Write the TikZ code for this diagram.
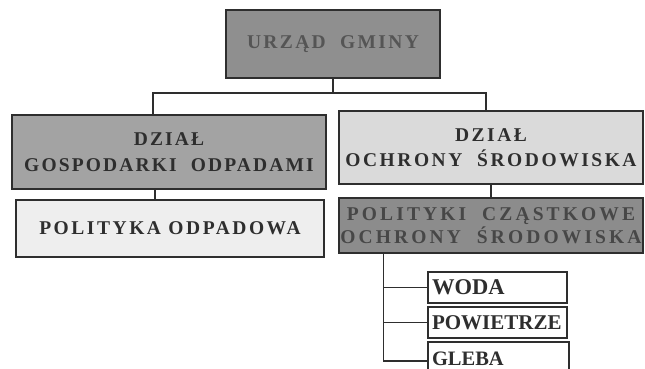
\documentclass[tikz,border=0pt]{standalone}
\usepackage{fontspec}
\setmainfont{Liberation Serif}
\definecolor{fillA}{HTML}{8F8F8F}
\definecolor{textA}{HTML}{555555}
\definecolor{fillB}{HTML}{A3A3A3}
\definecolor{fillC}{HTML}{DADADA}
\definecolor{fillD}{HTML}{EEEEEE}
\definecolor{fillE}{HTML}{8C8C8C}
\definecolor{textE}{HTML}{474747}
\definecolor{ink}{HTML}{2E2E2E}
\newcommand{\lsp}[1]{\addfontfeature{LetterSpace=#1}}
\begin{document}
\begin{tikzpicture}[x=1pt,y=-1pt,
  box/.style={draw=ink, line width=1.4pt, inner sep=0pt, align=center, text=ink,
    font=\bfseries\fontsize{19.5}{25.5}\selectfont},
  smallbox/.style={draw=ink, line width=1.2pt, fill=white, inner xsep=4pt, inner ysep=0pt,
    text width=131pt, align=left, minimum height=31pt, text=ink,
    font=\bfseries\fontsize{22.5}{24}\selectfont},
  conn/.style={draw=ink, line width=1.2pt}]
\fill[white] (0,0) rectangle (645,368);
\clip (0,0) rectangle (645,368);
% boxes
\node[box, fill=fillA, text=textA, minimum width=214pt, minimum height=68pt] (urzad) at (333,44)
  {\lsp{12}URZĄD\ \ GMINY};
\node[box, fill=fillB, minimum width=314pt, minimum height=74pt] (dgosp) at (169,152)
  {\lsp{11}DZIAŁ\\\lsp{11}GOSPODARKI\ \ ODPADAMI};
\node[box, fill=fillC, minimum width=304pt, minimum height=73pt] (dochr) at (491,147.5)
  {\lsp{13}DZIAŁ\\\lsp{13}OCHRONY\ \ ŚRODOWISKA};
\node[box, fill=fillD, minimum width=308pt, minimum height=57pt] (polodp) at (170,228.5)
  {\lsp{13}POLITYKA ODPADOWA};
\node[box, fill=fillE, text=textE, minimum width=304pt, minimum height=55pt, font=\bfseries\fontsize{19.5}{23}\selectfont] (polcz) at (491,225.5)
  {\lsp{16}POLITYKI\ \ CZĄSTKOWE\\\lsp{16}OCHRONY\ \ ŚRODOWISKA};
\node[smallbox] (woda) at (497.5,287.5) {WODA};
\node[smallbox, font=\bfseries\fontsize{21}{24}\selectfont] (powietrze) at (497.5,322.5) {POWIETRZE};
\node[smallbox, text width=133pt, minimum height=38pt, font=\bfseries\fontsize{20.5}{24}\selectfont] (gleba) at (498.5,361) {\raisebox{4pt}{GLEBA}};
% connectors
\coordinate (j) at (333,93);
\draw[conn] (urzad.south) -- (j);
\draw[conn] ([xshift=-16pt]dgosp.north) |- (j) -| ([xshift=-5pt]dochr.north);
\draw[conn] ([xshift=-14pt]dgosp.south) -- ([xshift=-14pt]dgosp.south |- polodp.north);
\draw[conn] (dochr.south) -- (polcz.north);
\coordinate (sp) at ([xshift=45pt]polcz.south west);
\draw[conn] (sp) |- (gleba.west);
\draw[conn] (woda.west -| sp) -- (woda.west);
\draw[conn] (powietrze.west -| sp) -- (powietrze.west);
\end{tikzpicture}
\end{document}
